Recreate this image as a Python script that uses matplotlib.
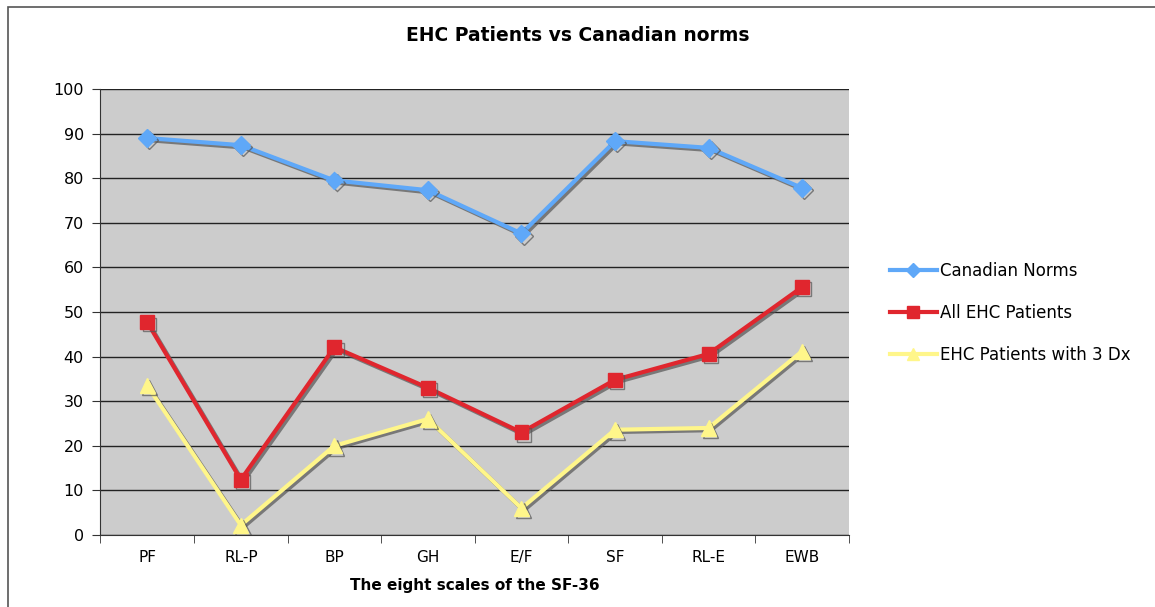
import matplotlib.pyplot as plt
import matplotlib.patheffects as pe
from matplotlib.patches import Rectangle

scales = ["PF", "RL-P", "BP", "GH", "E/F", "SF", "RL-E", "EWB"]
canadian_norms = [89.0, 87.4, 79.5, 77.3, 67.6, 88.3, 86.8, 77.8]
all_ehc = [47.7, 12.4, 42.1, 33.0, 23.0, 34.8, 40.6, 55.6]
ehc_3dx = [33.5, 2.2, 20.0, 26.0, 6.0, 23.6, 24.0, 41.2]

fig = plt.figure(figsize=(11.55, 6.07), dpi=100)
ax = fig.add_axes([0.087, 0.1186, 0.648, 0.7348])
ax.set_facecolor("#cccccc")

# outer chart border (only top and left visible in the reference)
fig.patches.append(Rectangle((8 / 1155, -0.1), 1.2, 1 - 7 / 607 + 0.1,
                             transform=fig.transFigure, fill=False,
                             edgecolor="#555555", linewidth=1.2))

shadow = [pe.SimpleLineShadow(offset=(1.6, -1.6), shadow_color="#555555", alpha=0.7),
          pe.Normal()]

x = list(range(len(scales)))
ax.plot(x, canadian_norms, color="#5fa8f8", lw=3, marker="D", ms=9,
        label="Canadian Norms", path_effects=shadow, zorder=3)
ax.plot(x, all_ehc, color="#e0262e", lw=3, marker="s", ms=10,
        label="All EHC Patients", path_effects=shadow, zorder=3)
ax.plot(x, ehc_3dx, color="#fff68a", lw=3, marker="^", ms=11,
        label="EHC Patients with 3 Dx", path_effects=shadow, zorder=3)

ax.set_xlim(-0.5, len(scales) - 0.5)
ax.set_ylim(0, 100)
ax.set_yticks(range(0, 101, 10))
ax.yaxis.grid(True, color="#222222", linewidth=1)
ax.set_axisbelow(True)

ax.set_xticks(x)
ax.set_xticklabels(scales, fontsize=11)
ax.set_xticks([i - 0.5 for i in range(len(scales) + 1)], minor=True)
ax.tick_params(axis="x", which="major", length=0, pad=11)
ax.tick_params(axis="x", which="minor", length=6, color="#333333", direction="out")
ax.tick_params(axis="y", length=6, color="#333333", labelsize=11.5, pad=6)

for s in ["top", "right"]:
    ax.spines[s].set_visible(False)
ax.spines["left"].set_color("#333333")
ax.spines["bottom"].set_color("#333333")

fig.suptitle("EHC Patients vs Canadian norms", x=0.5, y=0.942, va="center",
             fontsize=13.5, fontweight="bold")
ax.set_xlabel("The eight scales of the SF-36", fontsize=11, fontweight="bold", labelpad=9)

leg = ax.legend(loc="center left", bbox_to_anchor=(1.035, 0.498), frameon=False,
                fontsize=12, handlelength=2.8, handletextpad=0.2, labelspacing=1.45,
                markerscale=0.8)
for h in leg.get_lines():
    h.set_path_effects([])

fig.savefig("out.png", dpi=100)
